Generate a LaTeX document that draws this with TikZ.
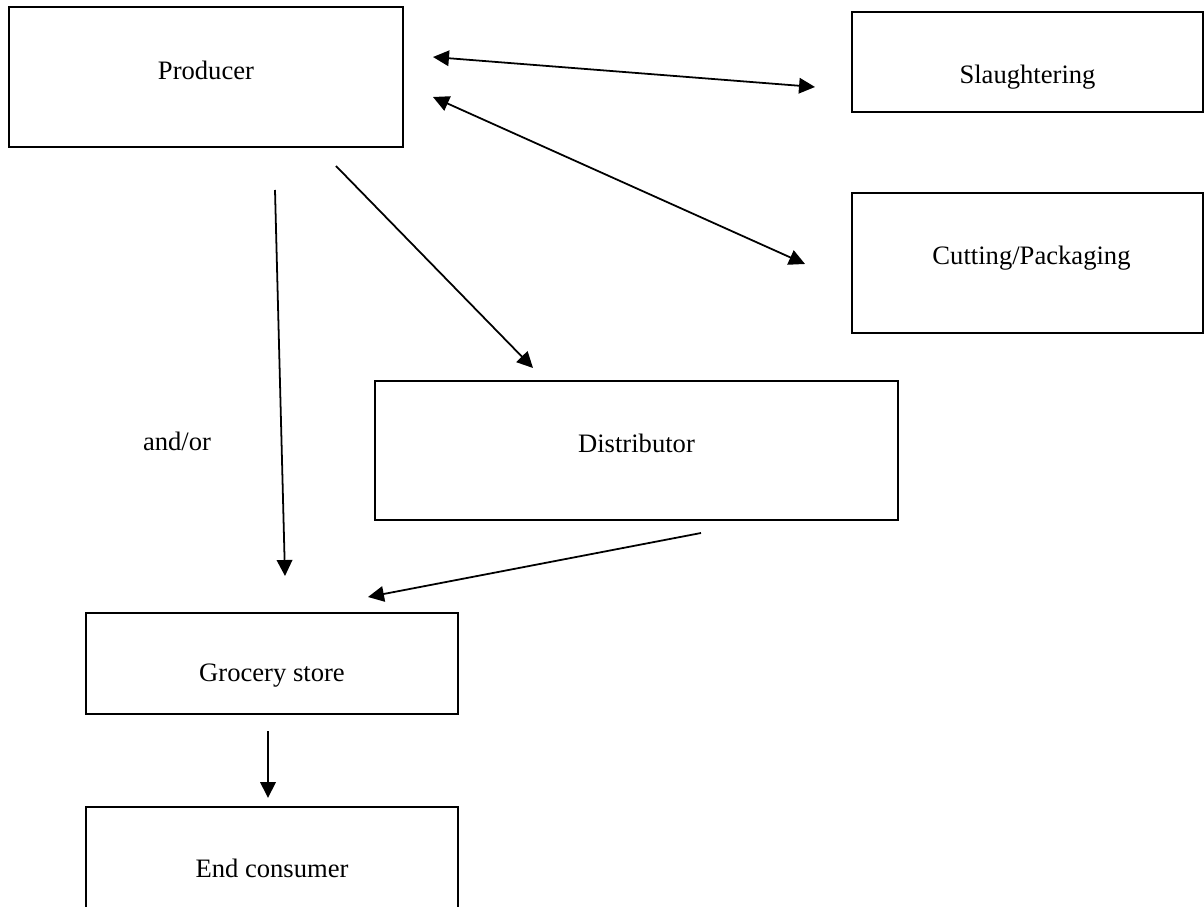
\documentclass[tikz,border=0pt]{standalone}
\usepackage{fontspec}
\setmainfont{Liberation Serif}
\usetikzlibrary{arrows.meta}
\newcommand{\pxu}{0.451pt}

\begin{document}
\begin{tikzpicture}[x=\pxu,y=-\pxu,>={Triangle[length=7.2pt,width=7pt]},font=\fontsize{12pt}{14pt}\selectfont]
    \tikzstyle{box}=[draw,rectangle,line width=1pt,inner sep=0pt]
    \tikzstyle{conn}=[line width=0.8pt]

    \useasboundingbox (0,0) rectangle (1204,907);
    \clip (0,0) rectangle (1204,907);

    \node[box,minimum width=394*\pxu,minimum height=140*\pxu,label={[yshift=7*\pxu]center:Producer}]           (prod) at (206,77)      {};
    \node[box,minimum width=351*\pxu,minimum height=100*\pxu,label={[yshift=-15*\pxu]center:Slaughtering}]     (slau) at (1027.5,62)   {};
    \node[box,minimum width=351*\pxu,minimum height=140*\pxu,label={[yshift=5*\pxu,xshift=4*\pxu]center:Cutting/Packaging}] (cut) at (1027.5,263) {};
    \node[box,minimum width=523*\pxu,minimum height=139*\pxu,label={[yshift=7.5*\pxu]center:Distributor}]      (dist) at (636.5,450.5) {};
    \node[box,minimum width=372*\pxu,minimum height=101*\pxu,label={[yshift=-12.5*\pxu]center:Grocery store}]  (groc) at (272,663.5)   {};
    \node[box,minimum width=372*\pxu,minimum height=123*\pxu,label={[yshift=0pt]center:End consumer}]          (endc) at (272,868.5)   {};
    \node (andor) at (177,441) {and/or};

    % free ends of the arrows
    \coordinate (ps1) at (433,57);   \coordinate (ps2) at (815,87);
    \coordinate (pc1) at (433,97);   \coordinate (pc2) at (805,264);
    \coordinate (pd1) at (336,166);  \coordinate (pd2) at (533,368);
    \coordinate (pg1) at (275,190);  \coordinate (pg2) at (285,576);
    \coordinate (dg1) at (701,533);  \coordinate (dg2) at (368,597);
    \coordinate (ge1) at (268,731);  \coordinate (ge2) at (268,798);

    \draw[conn,<->] (ps1) -- (ps2);
    \draw[conn,<->] (pc1) -- (pc2);
    \draw[conn,->]  (pd1) -- (pd2);
    \draw[conn,->]  (pg1) -- (pg2);
    \draw[conn,->]  (dg1) -- (dg2);
    \draw[conn,->]  (ge1) -- (ge2);
\end{tikzpicture}
\end{document}
